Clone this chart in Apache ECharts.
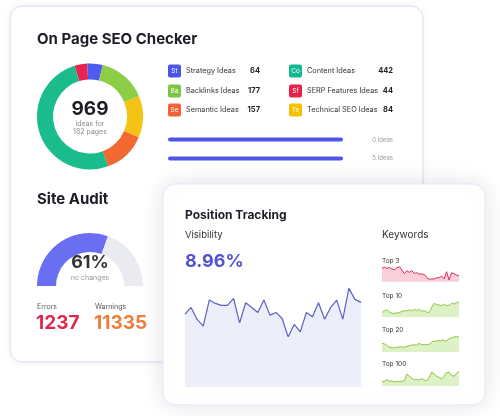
<!DOCTYPE html>
<html><head><meta charset="utf-8">
<script src="https://cdn.jsdelivr.net/npm/echarts@6/dist/echarts.min.js"></script>
<style>html,body{margin:0;padding:0;background:#fff}#c{width:500px;height:416px}</style>
</head><body><div id="c"></div>
<script>
// ---- data ----
const ideaCodes = ['St','Ba','Se','Co','Sf','Te'];
const ideaNames = ['Strategy Ideas','Backlinks Ideas','Semantic Ideas','Content Ideas','SERP Features Ideas','Technical SEO Ideas'];
const ideaCounts = [64,177,157,442,44,84];
const ideaColors = ['#4a55e8','#7cc643','#f26236','#14b892','#e5234b','#f5c000'];
// donut slices as drawn (clockwise from the red one)
const donutNames = ['SERP Features','Strategy','Backlinks','Technical SEO','Semantic','Content'];
const donutShares = [14,17,53.5,45.5,47,183];
const donutColors = ['#e8234f','#4f5bf0','#8ccf47','#f5c316','#f26a31','#1abc8c'];
const totalIdeas = 969;
const totalPages = 182;
const progressLabels = ['0 Ideas','5 Ideas'];
const progressValues = [100,100];
const auditScore = 61;
const auditErrors = 1237;
const auditWarnings = 11335;
const visibilityValue = '8.96%';
const visibility = [218,238,202,182,260,250,244,244,265,192,252,238,223,260,215,223,205,150,187,165,223,210,252,203,238,260,203,295,262,253];
const top3 = [40,44,40,43,38,36,42,45,35,24,33,28,33,25,27,23,23,22,12,8,8,8,12,12,17,8,30,5,27,24,20,18];
const top10 = [14,20,22,16,12,12,13,14,18,19,20,22,19,24,20,24,18,20,16,14,30,42,38,37,34,40,34,36,42,40,44,46];
const top20 = [26,24,19,14,12,14,14,16,14,16,18,20,22,20,26,22,22,22,24,32,32,34,34,36,32,38,42,44,48,44];
const top100 = [12,14,19,14,16,12,14,14,14,16,36,29,24,18,20,18,22,18,16,26,42,36,29,26,22,29,40,42,32,29,38,44];
const keywordLabels = ['Top 3','Top 10','Top 20','Top 100'];

const F = 'Inter, "Noto Sans", sans-serif';
const chart = echarts.init(document.getElementById('c'), null, {renderer:'canvas'});

function txt(x,y,t,size,color,weight,align,vAlign){
  return {type:'text',x:x,y:y,z:100,style:{text:t,fontFamily:F,fontSize:size,fill:color,fontWeight:weight||'normal',textAlign:align||'left',textVerticalAlign:vAlign||'middle'}};
}
const g = [];
// cards
g.push({type:'rect',z:0,shape:{x:10,y:6,width:413,height:356,r:12},style:{fill:'#fff',stroke:'#dcdcf5',lineWidth:1,shadowBlur:10,shadowColor:'rgba(0,0,0,0.05)'}});
g.push({type:'rect',z:1,shape:{x:163,y:184,width:322,height:221,r:12},style:{fill:'#fff',stroke:'#e4e4f7',lineWidth:1,shadowBlur:22,shadowColor:'rgba(40,40,80,0.13)'}});
// titles
g.push(txt(37,39,'On Page SEO Checker',15,'#1d1d27','bold'));
g.push(txt(90,109,String(totalIdeas),19,'#1d1d27','bold','center'));
g.push(txt(90,124,'ideas for',7,'#8a8a94','normal','center'));
g.push(txt(90,132,totalPages+' pages',7,'#8a8a94','normal','center'));
// legend
const rowsY=[71,91,110];
for(let i=0;i<6;i++){
  const col=Math.floor(i/3), row=i%3;
  const bx = col? 289:168, y=rowsY[row];
  g.push({type:'rect',z:100,shape:{x:bx,y:y-6.5,width:13,height:13,r:2},style:{fill:ideaColors[i]}});
  g.push(txt(bx+6.5,y,ideaCodes[i],6.5,'#fff','normal','center'));
  g.push(txt(bx+18,y,ideaNames[i],7.3,'#333','normal'));
  g.push(txt(col?393:260,y,String(ideaCounts[i]),7.5,'#222','bold','right'));
}
g.push(txt(393,140,progressLabels[0],6,'#999','normal','right'));
g.push(txt(393,158,progressLabels[1],6,'#999','normal','right'));
// site audit
g.push(txt(37,199,'Site Audit',15,'#1d1d27','bold'));
g.push(txt(90,263,auditScore+'%',18,'#333','bold','center'));
g.push(txt(90,278,'no changes',7,'#999','normal','center'));
g.push(txt(37,307,'Errors',7,'#555'));
g.push(txt(95,307,'Warnings',7,'#555'));
g.push(txt(36,323,String(auditErrors),19,'#e0284f','bold'));
g.push(txt(94,323,String(auditWarnings),19,'#ef7c3a','bold'));
// position tracking
g.push(txt(185,215,'Position Tracking',12,'#1d1d27','bold'));
g.push(txt(185,235,'Visibility',9.5,'#333'));
g.push(txt(185,262,visibilityValue,18,'#4f52d3','bold'));
g.push(txt(382,235,'Keywords',10,'#333'));
const kwLabelY=[261,296,330,364];
keywordLabels.forEach((l,i)=>g.push(txt(382,kwLabelY[i],l,6.5,'#333')));

const grids=[], xAxes=[], yAxes=[], series=[];
function addGrid(gr, xa, ya){
  grids.push(gr); const gi=grids.length-1;
  xa.gridIndex=gi; ya.gridIndex=gi; xAxes.push(xa); yAxes.push(ya);
  return gi;
}
// progress bars
let gi = addGrid({left:168,top:130,width:175,height:38},
  {type:'value',min:0,max:100,show:false},
  {type:'category',data:progressLabels,inverse:true,show:false});
series.push({type:'bar',xAxisIndex:gi,yAxisIndex:gi,data:progressValues,barWidth:4,itemStyle:{color:'#4f55e8',borderRadius:2},silent:true,z:10});
// visibility
gi = addGrid({left:185,top:280,width:176,height:107},
  {type:'category',boundaryGap:false,data:visibility.map((v,i)=>i),show:false},
  {type:'value',min:0,max:320,show:false});
series.push({type:'line',xAxisIndex:gi,yAxisIndex:gi,data:visibility,symbol:'none',lineStyle:{color:'#5b5ec8',width:1.2},areaStyle:{color:'#eceefa',opacity:1},z:10,silent:true});
// sparklines
const spark=[[top3,281.7,'#dd2c5c','#f8cfda'],[top10,317.3,'#8cc63f','#dcf1c6'],[top20,352,'#8cc63f','#dcf1c6'],[top100,386,'#8cc63f','#dcf1c6']];
spark.forEach(s=>{
  const k = addGrid({left:382,top:s[1]-16,width:77,height:16},
    {type:'category',boundaryGap:false,data:s[0].map((v,i)=>i),show:false},
    {type:'value',min:0,max:48,show:false});
  series.push({type:'line',xAxisIndex:k,yAxisIndex:k,data:s[0],symbol:'none',lineStyle:{color:s[2],width:1},areaStyle:{color:s[3],opacity:1},z:10,silent:true});
});
// donut
series.push({type:'pie',center:[90,116.5],radius:[37,53],startAngle:107,clockwise:true,label:{show:false},labelLine:{show:false},silent:true,z:10,
  itemStyle:{borderWidth:0},
  data:donutShares.map((v,i)=>({name:donutNames[i],value:v,itemStyle:{color:donutColors[i]}}))});
// gauge
series.push({type:'pie',center:[90,286],radius:[34,53],startAngle:180,clockwise:true,label:{show:false},labelLine:{show:false},silent:true,z:10,
  data:[{value:auditScore,itemStyle:{color:'#6a6ff1'}},{value:100-auditScore,itemStyle:{color:'#e9ebf0'}},{value:100,itemStyle:{color:'rgba(0,0,0,0)'}}]});

chart.setOption({
  animation:false,
  backgroundColor:'#fff',
  grid:grids, xAxis:xAxes, yAxis:yAxes, series:series,
  graphic:{elements:g}
});
</script></body></html>
